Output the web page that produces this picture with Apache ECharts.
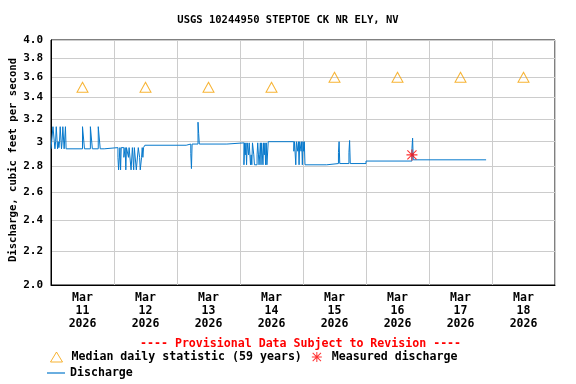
<!DOCTYPE html>
<html>
<head>
<meta charset="utf-8">
<script src="https://cdn.jsdelivr.net/npm/echarts@6/dist/echarts.min.js"></script>
<style>
html,body{margin:0;padding:0;background:#fff;}
#chart{width:576px;height:384px;}
</style>
</head>
<body>
<div id="chart"></div>
<script>
// ---------- data ----------
const titleText = 'USGS 10244950 STEPTOE CK NR ELY, NV';
const yAxisTitle = 'Discharge, cubic feet per second';
const yTicks = [2.0, 2.2, 2.4, 2.6, 2.8, 3.0, 3.2, 3.4, 3.6, 3.8, 4.0];
const dayLabels = ['Mar\n11\n2026', 'Mar\n12\n2026', 'Mar\n13\n2026', 'Mar\n14\n2026',
                   'Mar\n15\n2026', 'Mar\n16\n2026', 'Mar\n17\n2026', 'Mar\n18\n2026'];
const dayNumbers = [11, 12, 13, 14, 15, 16, 17, 18];
const medianValues = [3.5, 3.5, 3.5, 3.5, 3.6, 3.6, 3.6, 3.6];
const measuredTime = ['16 17:30'];
const measuredValue = [2.89];
// discharge (15-min record, change points only; value held until next time)
const dischargeTimes = [
 '11 00:00','11 00:45','11 01:15','11 01:30','11 01:45','11 02:00','11 02:30','11 02:45','11 03:00','11 03:15',
 '11 03:30','11 04:00','11 04:15','11 04:30','11 05:00','11 05:30','11 05:45','11 12:00','11 12:45','11 15:00',
 '11 15:45','11 18:00','11 18:45','11 20:15',
 '12 01:30','12 01:45','12 02:15','12 02:30','12 02:45','12 03:45','12 04:15','12 04:30','12 04:45','12 05:30',
 '12 05:45','12 06:30','12 07:00','12 07:30','12 07:45','12 08:30','12 09:15','12 09:45','12 10:00','12 10:30',
 '12 10:45','12 11:00','12 11:15','12 11:45',
 '13 03:30','13 05:15','13 05:30','13 05:45','13 08:00','13 08:15','13 08:30','13 19:00',
 '14 01:30','14 01:45','14 02:00','14 02:15','14 02:30','14 02:45','14 03:15','14 03:30','14 04:00','14 04:15',
 '14 04:30','14 04:45','14 05:15','14 05:30','14 06:30','14 06:45','14 07:15','14 07:30','14 07:45','14 08:00',
 '14 08:15','14 08:45','14 09:00','14 09:15','14 09:30','14 09:45','14 10:00','14 10:15','14 10:45',
 '14 20:30','14 20:45','14 21:15','14 21:30','14 22:00','14 22:15','14 22:30','14 22:45','14 23:15','14 23:30','14 23:45',
 '15 00:00','15 00:15','15 00:30','15 00:45','15 09:00','15 13:30','15 13:45','15 14:00','15 17:30','15 17:45','15 18:00',
 '16 00:00','16 17:30','16 17:45','16 18:00',
 '17 21:45'
];
const dischargeValues = [
 2.94,3.13,3.00,2.94,3.00,3.13,2.94,3.00,2.95,3.00,
 3.13,2.94,3.00,3.13,2.94,3.13,2.94,3.13,2.94,3.13,
 2.94,3.13,2.94,2.95,
 2.87,2.77,2.95,2.77,2.95,2.87,2.95,2.77,2.95,2.87,
 2.95,2.77,2.95,2.77,2.95,2.77,2.95,2.87,2.77,2.87,
 2.95,2.87,2.95,2.97,
 2.98,2.90,2.78,2.98,3.17,3.07,2.98,2.99,
 2.81,2.99,2.89,2.99,2.81,2.99,2.89,2.99,2.81,2.89,
 2.81,2.99,2.89,2.81,2.89,2.99,2.81,2.89,2.99,2.81,
 2.99,2.81,2.99,2.89,2.99,2.81,2.99,2.81,3.00,
 2.92,3.00,2.81,3.00,2.92,3.00,2.81,3.00,2.92,3.00,2.81,
 3.00,2.92,3.00,2.81,2.82,2.91,3.00,2.82,2.91,3.01,2.82,
 2.84,2.94,3.03,2.85,
 2.85
];

// ---------- helpers ----------
function ts(s) { // 'DD HH:MM' in March 2026, local time
  const d = parseInt(s.slice(0, 2), 10);
  const h = parseInt(s.slice(3, 5), 10);
  const m = parseInt(s.slice(6, 8), 10);
  return new Date(2026, 2, d, h, m).getTime();
}
const xMin = new Date(2026, 2, 11).getTime();
const xMax = new Date(2026, 2, 19).getTime();
const midnights = dayNumbers.concat([19]).map(d => new Date(2026, 2, d).getTime());
const noons = dayNumbers.map(d => new Date(2026, 2, d, 12).getTime());

const FONT = 'DejaVu Sans Mono';
const lineColor = '#0779cc';
const triColor = '#f5a000';
const starPath = 'path://M0,9L20,9L20,11L0,11Z M9,0L11,0L11,20L9,20Z M1,2.4L2.4,1L19,17.6L17.6,19Z M17.6,1L19,2.4L2.4,19L1,17.6Z';
const legendText = {fontFamily: FONT, fontWeight: 'bold', fontSize: 11.6, color: '#000', padding: [0, 0, 0, 4]};

const chart = echarts.init(document.getElementById('chart'), null, {renderer: 'canvas'});
chart.setOption({
  animation: false,
  backgroundColor: '#fff',
  title: [{
    text: titleText, left: 'center', top: 10,
    textStyle: {fontFamily: FONT, fontWeight: 'bold', fontSize: 10.5, color: '#000'}
  }, {
    text: '---- Provisional Data Subject to Revision ----', left: 140, top: 338, padding: 0,
    textStyle: {fontFamily: FONT, fontWeight: 'bold', fontSize: 11.6, color: '#ff0000'}
  }],
  graphic: [{
    type: 'text', x: 13, y: 160, rotation: Math.PI / 2,
    style: {text: yAxisTitle, align: 'center', verticalAlign: 'middle',
            font: 'bold 10.6px "DejaVu Sans Mono"', fill: '#000'}
  }],
  grid: {left: 51, right: 21, top: 40, bottom: 99, show: true, borderColor: '#000', borderWidth: 1,
         containLabel: false, outerBoundsMode: 'none'},
  legend: [{
    left: 45, top: 346, itemWidth: 12, itemHeight: 10, itemGap: 10, selectedMode: false,
    itemStyle: {borderWidth: 1},
    data: ['Median daily statistic (59 years)', 'Measured discharge'],
    textStyle: legendText
  }, {
    left: 42, top: 362, itemWidth: 18, itemHeight: 1.2, selectedMode: false,
    data: [{name: 'Discharge', icon: 'rect'}],
    textStyle: {fontFamily: FONT, fontWeight: 'bold', fontSize: 11.6, color: '#000'}
  }],
  xAxis: {
    type: 'value', min: xMin, max: xMax,
    axisLine: {show: true, lineStyle: {color: '#000', width: 1}},
    axisTick: {show: false, customValues: midnights},
    splitLine: {show: true, lineStyle: {color: '#cccccc', width: 1}},
    axisLabel: {
      customValues: noons, margin: 7, lineHeight: 13,
      fontFamily: FONT, fontWeight: 'bold', fontSize: 11.5, color: '#000',
      formatter: function (v) {
        const d = new Date(v).getDate();
        const i = dayNumbers.indexOf(d);
        return i >= 0 ? dayLabels[i] : '';
      }
    }
  },
  yAxis: {
    type: 'log', min: 2, max: 4,
    axisLine: {show: true, lineStyle: {color: '#000', width: 1}},
    axisTick: {show: false, customValues: yTicks},
    splitLine: {show: true, lineStyle: {color: '#cccccc', width: 1}},
    axisLabel: {
      customValues: yTicks, margin: 8,
      fontFamily: FONT, fontWeight: 'bold', fontSize: 11, color: '#000',
      formatter: function (v) { return Math.abs(v - 3) < 1e-9 ? '3' : v.toFixed(1); }
    }
  },
  series: [{
    name: 'Discharge', type: 'line', step: 'end', showSymbol: false, symbol: 'none',
    lineStyle: {color: lineColor, width: 1}, itemStyle: {color: lineColor},
    data: dischargeTimes.map((t, i) => [ts(t), dischargeValues[i]]), z: 2
  }, {
    name: 'Median daily statistic (59 years)', type: 'scatter', symbol: 'triangle', symbolSize: [11, 10],
    itemStyle: {color: 'rgba(0,0,0,0)', borderColor: triColor, borderWidth: 1},
    data: noons.map((t, i) => [t, medianValues[i]]), z: 3
  }, {
    name: 'Measured discharge', type: 'scatter', symbol: starPath, symbolSize: 11,
    itemStyle: {color: '#ff0000'},
    data: measuredTime.map((t, i) => [ts(t), measuredValue[i]]), z: 4
  }]
});
</script>
</body>
</html>
